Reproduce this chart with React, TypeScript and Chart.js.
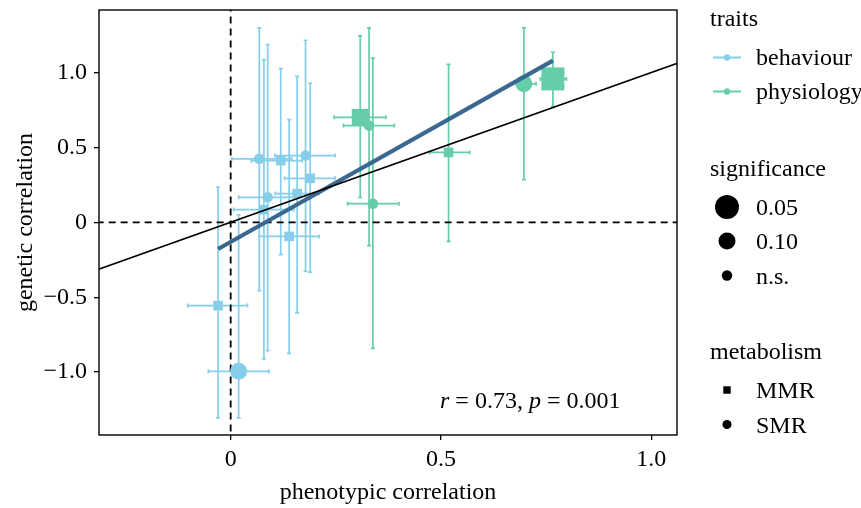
import React, { useEffect, useRef } from 'react';
import { Chart, registerables } from 'chart.js';

Chart.register(...registerables);

const FONT = '"Liberation Serif", "Times New Roman", serif';
const FONT_SIZE = 24;

const xTickValues = [0, 0.5, 1.0];
const xTickLabels = ['0', '0.5', '1.0'];
const yTickValues = [-1.0, -0.5, 0, 0.5, 1.0];
const yTickLabels = ['\u22121.0', '\u22120.5', '0', '0.5', '1.0'];

// behaviour traits
const behaviourX = [0.068, 0.119, 0.178, 0.189, 0.158, 0.088, 0.079, 0.139, -0.030, 0.019];
const behaviourY = [0.424, 0.412, 0.446, 0.294, 0.192, 0.167, 0.085, -0.094, -0.556, -0.995];
const behaviourXLow = [0.003, 0.049, 0.105, 0.128, 0.106, 0.019, 0.007, 0.068, -0.102, -0.053];
const behaviourXHigh = [0.145, 0.17, 0.248, 0.248, 0.21, 0.16, 0.15, 0.21, 0.04, 0.091];
const behaviourYLow = [-0.456, -0.216, -0.327, -0.334, -0.605, -0.857, -0.912, -0.875, -1.305, -1.305];
const behaviourYHigh = [1.299, 1.027, 1.216, 0.929, 0.975, 1.187, 1.087, 0.686, 0.236, 0.05];
const behaviourMetabolism = ['SMR', 'MMR', 'SMR', 'MMR', 'MMR', 'SMR', 'MMR', 'MMR', 'MMR', 'SMR'];
const behaviourSignificance = ['n.s.', 'n.s.', 'n.s.', 'n.s.', 'n.s.', 'n.s.', 'n.s.', 'n.s.', 'n.s.', '0.10'];

// physiology traits
const physiologyX = [0.308, 0.329, 0.338, 0.518, 0.697, 0.766];
const physiologyY = [0.701, 0.646, 0.125, 0.467, 0.925, 0.958];
const physiologyXLow = [0.246, 0.268, 0.278, 0.473, 0.668, 0.736];
const physiologyXHigh = [0.369, 0.389, 0.40, 0.568, 0.726, 0.798];
const physiologyYLow = [0.167, -0.156, -0.842, -0.127, 0.285, 0.773];
const physiologyYHigh = [1.245, 1.299, 1.096, 1.055, 1.299, 1.136];
const physiologyMetabolism = ['MMR', 'SMR', 'SMR', 'MMR', 'SMR', 'MMR'];
const physiologySignificance = ['0.10', 'n.s.', 'n.s.', 'n.s.', '0.10', '0.05'];

// fitted regression line (endpoints) and identity line
const regressionX = [-0.030, 0.766];
const regressionY = [-0.178, 1.08];
const identityX = [-0.5, 1.5];
const identityY = [-0.5, 1.5];

const annotationText = [
  { t: 'r', italic: true },
  { t: ' = 0.73, ', italic: false },
  { t: 'p', italic: true },
  { t: ' = 0.001', italic: false },
];

const BLUE = '#87CEEB';
const GREEN = '#66CDAA';
const REG = '#3a6890';

const circleRadius: Record<string, number> = { '0.05': 12, '0.10': 8.5, 'n.s.': 5.3 };
const rectRadius: Record<string, number> = { '0.05': 16.3, '0.10': 12, 'n.s.': 6.8 };

const groups = [
  { name: 'behaviour', color: BLUE, x: behaviourX, y: behaviourY, xl: behaviourXLow, xh: behaviourXHigh, yl: behaviourYLow, yh: behaviourYHigh, m: behaviourMetabolism, s: behaviourSignificance },
  { name: 'physiology', color: GREEN, x: physiologyX, y: physiologyY, xl: physiologyXLow, xh: physiologyXHigh, yl: physiologyYLow, yh: physiologyYHigh, m: physiologyMetabolism, s: physiologySignificance },
];

const errorBarPlugin = {
  id: 'errorBars',
  beforeDatasetsDraw(chart: any) {
    const { ctx, chartArea, scales } = chart;
    const xs = scales.x;
    const ys = scales.y;
    ctx.save();
    ctx.beginPath();
    ctx.rect(chartArea.left, chartArea.top, chartArea.right - chartArea.left, chartArea.bottom - chartArea.top);
    ctx.clip();
    ctx.lineWidth = 1.7;
    const cap = 2;
    for (const g of groups) {
      ctx.strokeStyle = g.color;
      for (let i = 0; i < g.x.length; i++) {
        const px = xs.getPixelForValue(g.x[i]);
        const py = ys.getPixelForValue(g.y[i]);
        const pyl = ys.getPixelForValue(g.yl[i]);
        const pyh = ys.getPixelForValue(g.yh[i]);
        const pxl = xs.getPixelForValue(g.xl[i]);
        const pxh = xs.getPixelForValue(g.xh[i]);
        ctx.beginPath();
        ctx.moveTo(px, pyl); ctx.lineTo(px, pyh);
        ctx.moveTo(px - cap, pyl); ctx.lineTo(px + cap, pyl);
        ctx.moveTo(px - cap, pyh); ctx.lineTo(px + cap, pyh);
        ctx.moveTo(pxl, py); ctx.lineTo(pxh, py);
        ctx.moveTo(pxl, py - cap); ctx.lineTo(pxl, py + cap);
        ctx.moveTo(pxh, py - cap); ctx.lineTo(pxh, py + cap);
        ctx.stroke();
      }
    }
    ctx.restore();
  },
};

const overlayPlugin = {
  id: 'overlay',
  afterDraw(chart: any) {
    const { ctx, chartArea } = chart;
    ctx.save();
    // panel border
    ctx.strokeStyle = '#000';
    ctx.lineWidth = 1.4;
    ctx.strokeRect(chartArea.left, chartArea.top, chartArea.right - chartArea.left, chartArea.bottom - chartArea.top);

    // annotation
    ctx.fillStyle = '#000';
    ctx.textBaseline = 'alphabetic';
    let ax = 440;
    for (const part of annotationText) {
      ctx.font = `${part.italic ? 'italic ' : ''}${FONT_SIZE}px ${FONT}`;
      ctx.fillText(part.t, ax, 408);
      ax += ctx.measureText(part.t).width;
    }

    // legend
    const tx = 710;
    const kx = 727;
    const lx = 756;
    ctx.font = `${FONT_SIZE}px ${FONT}`;
    ctx.fillText('traits', tx, 26);
    const traitRows = [
      { label: 'behaviour', color: BLUE, y: 57.5 },
      { label: 'physiology', color: GREEN, y: 91.5 },
    ];
    for (const r of traitRows) {
      ctx.strokeStyle = r.color;
      ctx.lineWidth = 2;
      ctx.beginPath();
      ctx.moveTo(713, r.y); ctx.lineTo(741, r.y);
      ctx.stroke();
      ctx.fillStyle = r.color;
      ctx.beginPath();
      ctx.arc(kx, r.y, 3.2, 0, Math.PI * 2);
      ctx.fill();
      ctx.fillStyle = '#000';
      ctx.fillText(r.label, lx, r.y + 7);
    }
    ctx.fillText('significance', tx, 176);
    const sigRows = [
      { label: '0.05', r: 12, y: 207 },
      { label: '0.10', r: 8.5, y: 241 },
      { label: 'n.s.', r: 5.2, y: 275.5 },
    ];
    for (const r of sigRows) {
      ctx.beginPath();
      ctx.arc(kx, r.y, r.r, 0, Math.PI * 2);
      ctx.fill();
      ctx.fillText(r.label, lx, r.y + 8);
    }
    ctx.fillText('metabolism', tx, 359);
    ctx.fillRect(kx - 3.7, 390 - 3.7, 7.4, 7.4);
    ctx.fillText('MMR', lx, 398);
    ctx.beginPath();
    ctx.arc(kx, 424.5, 4.5, 0, Math.PI * 2);
    ctx.fill();
    ctx.fillText('SMR', lx, 432.5);
    ctx.restore();
  },
};

function lineData(xs: number[], ys: number[]) {
  return xs.map((x, i) => ({ x, y: ys[i] }));
}

export default function App() {
  const ref = useRef<HTMLCanvasElement | null>(null);
  useEffect(() => {
    document.body.style.margin = '0';
    const canvas = ref.current;
    if (!canvas) return;
    const font = { family: FONT, size: FONT_SIZE };
    const datasets: any[] = [
      {
        label: 'vline', data: lineData([0, 0], [-3, 3]), showLine: true, pointRadius: 0,
        borderColor: '#000', borderWidth: 1.8, borderDash: [7, 5], order: 20,
      },
      {
        label: 'hline', data: lineData([-3, 3], [0, 0]), showLine: true, pointRadius: 0,
        borderColor: '#000', borderWidth: 1.8, borderDash: [7, 5], order: 20,
      },
    ];
    for (const g of groups) {
      datasets.push({
        label: g.name,
        data: lineData(g.x, g.y),
        showLine: false,
        backgroundColor: g.color,
        borderColor: g.color,
        pointBackgroundColor: g.color,
        pointBorderWidth: 0,
        pointStyle: g.m.map((m) => (m === 'MMR' ? 'rect' : 'circle')),
        pointRadius: g.m.map((m, i) => (m === 'MMR' ? rectRadius[g.s[i]] : circleRadius[g.s[i]])),
        order: 10,
      });
    }
    datasets.push({
      label: 'regression', data: lineData(regressionX, regressionY), showLine: true, pointRadius: 0,
      borderColor: REG, borderWidth: 4.2, order: 5,
    });
    datasets.push({
      label: 'identity', data: lineData(identityX, identityY), showLine: true, pointRadius: 0,
      borderColor: '#000', borderWidth: 1.6, order: 1,
    });

    const chart = new Chart(canvas, {
      type: 'scatter',
      data: { datasets },
      options: {
        responsive: false,
        animation: false,
        devicePixelRatio: 1,
        layout: { autoPadding: false, padding: { top: 10, right: 184, left: 0, bottom: 0 } },
        plugins: { legend: { display: false }, tooltip: { enabled: false } },
        elements: { line: { tension: 0 } },
        scales: {
          x: {
            type: 'linear', min: -0.313, max: 1.061,
            afterFit: (s: any) => { s.height = 73; s.paddingLeft = 0; s.paddingRight = 0; },
            afterBuildTicks: (s: any) => { s.ticks = xTickValues.map((v) => ({ value: v })); },
            ticks: {
              callback: (v: any) => xTickLabels[xTickValues.indexOf(Number(v))] ?? '',
              font, color: '#000', padding: 5, maxRotation: 0, autoSkip: false,
            },
            grid: { drawOnChartArea: false, tickLength: 5, color: '#000', lineWidth: 1.3 },
            border: { display: false },
            title: { display: true, text: 'phenotypic correlation', font, color: '#000', padding: { top: 0, bottom: 1 } },
          },
          y: {
            type: 'linear', min: -1.42, max: 1.418,
            afterFit: (s: any) => { s.width = 99; s.paddingTop = 0; s.paddingBottom = 0; },
            afterBuildTicks: (s: any) => { s.ticks = yTickValues.map((v) => ({ value: v })); },
            ticks: {
              callback: (v: any) => yTickLabels[yTickValues.indexOf(Number(v))] ?? '',
              font, color: '#000', padding: 7, autoSkip: false,
            },
            grid: { drawOnChartArea: false, tickLength: 5, color: '#000', lineWidth: 1.3 },
            border: { display: false },
            title: { display: true, text: 'genetic correlation', font, color: '#000', padding: { top: 11, bottom: 0 } },
          },
        },
      },
      plugins: [errorBarPlugin, overlayPlugin],
    });
    return () => chart.destroy();
  }, []);
  return (
    <div style={{ width: 861, height: 508 }}>
      <canvas ref={ref} width={861} height={508} style={{ display: 'block', width: 861, height: 508 }} />
    </div>
  );
}
